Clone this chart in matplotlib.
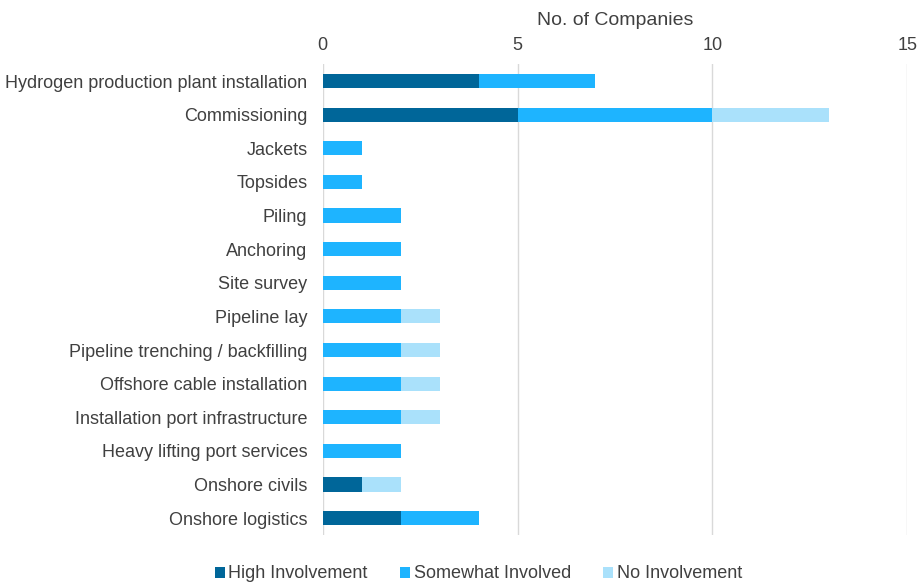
import numpy as np
import matplotlib.pyplot as plt

plt.rcParams['font.family'] = ['Liberation Sans', 'DejaVu Sans']

# Data
categories = [
    'Hydrogen production plant installation',
    'Commissioning',
    'Jackets',
    'Topsides',
    'Piling',
    'Anchoring',
    'Site survey',
    'Pipeline lay',
    'Pipeline trenching / backfilling',
    'Offshore cable installation',
    'Installation port infrastructure',
    'Heavy lifting port services',
    'Onshore civils',
    'Onshore logistics',
]
high = [4, 5, 0, 0, 0, 0, 0, 0, 0, 0, 0, 0, 1, 2]
somewhat = [3, 5, 1, 1, 2, 2, 2, 2, 2, 2, 2, 2, 0, 2]
none_ = [0, 3, 0, 0, 0, 0, 0, 1, 1, 1, 1, 0, 1, 0]

series_names = ['High Involvement', 'Somewhat Involved', 'No Involvement']
colors = ['#006699', '#1EB4FF', '#AAE1FB']
text_color = '#404040'

fig = plt.figure(figsize=(9.22, 5.87), dpi=100)
ax = fig.add_axes([0.350, 0.0886, 0.634, 0.802])

y = np.arange(len(categories))
left = np.zeros(len(categories))
for vals, name, c in zip([high, somewhat, none_], series_names, colors):
    ax.barh(y, vals, left=left, height=0.42, color=c, label=name, zorder=3)
    left += np.array(vals)

ax.set_ylim(len(categories) - 0.5, -0.5)
ax.set_xlim(0, 15)
ax.set_xticks([0, 5, 10, 15])
ax.set_yticks(y)
ax.set_yticklabels(categories, fontsize=13, color=text_color)
ax.xaxis.tick_top()
ax.xaxis.set_label_position('top')
ax.set_xlabel('No. of Companies', fontsize=14, color=text_color, labelpad=9)
ax.tick_params(axis='x', labelsize=13, colors=text_color, length=0, pad=7)
ax.tick_params(axis='y', length=0, pad=11)
ax.grid(axis='x', color='#D9D9D9', linewidth=1, zorder=0)
for s in ax.spines.values():
    s.set_visible(False)

handles, labels = ax.get_legend_handles_labels()
fig.legend(handles, labels, loc='lower center', bbox_to_anchor=(0.519, -0.02),
           ncol=3, frameon=False, fontsize=13, labelcolor=text_color,
           handlelength=0.55, handleheight=0.55, handletextpad=0.2, columnspacing=1.8)

plt.savefig('out.png', dpi=100)
